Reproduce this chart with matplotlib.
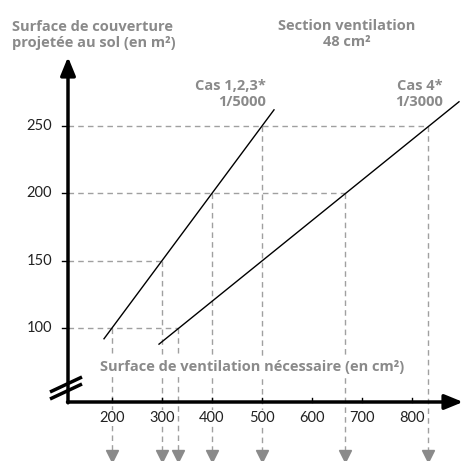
import matplotlib.pyplot as plt

# ----------------------------------------
# Data
# ----------------------------------------
x_ticks = [200, 300, 400, 500, 600, 700, 800]
y_ticks = [100, 150, 200, 250]

# Cas 1,2,3 : 1/5000 -> surface = vent / 2
cas123_x = [184, 524]
cas123_y = [92, 262]
# Cas 4 : 1/3000 -> surface = 0.3 * vent
cas4_x = [294, 894]
cas4_y = [88, 268]

# guide points (ventilation, surface) for the dashed helper lines
guide_vent = [200, 300, 400, 500, 333, 667, 833]
guide_surf = [100, 150, 200, 250, 100, 200, 250]

GREY = "#8a8a8a"
DASH = "#a0a0a0"
plt.rcParams['font.family'] = ['Lato', 'DejaVu Sans']
LABEL_FONT = ['Open Sans', 'DejaVu Sans']

fig = plt.figure(figsize=(4.64, 4.61), dpi=100)
ax = fig.add_axes([0, 0, 1, 1])
# pixel mapping: x 200->112px, 0.5 px per unit ; y 100->328px, 250->126px
X200 = 112
sx = 0.5
sy = 202 / 150.0
ax.set_xlim(200 - X200 / sx, 200 + (464 - X200) / sx)
ax.set_ylim(100 - (461 - 328) / sy, 100 + 328 / sy)
ax.axis("off")


def px(x):
    return 200 + (x - X200) / sx


def py(y):
    return 100 - (y - 328) / sy


x0 = px(68)          # y axis position
y0 = py(402)         # x axis position
y_arrow = py(456)
y_top = py(57)
x_end = px(463)

# ----------------------------------------
# Dashed guides
# ----------------------------------------
max_h = {}
for v, s in zip(guide_vent, guide_surf):
    max_h[s] = max(max_h.get(s, 0), v)
for s, v in max_h.items():
    ax.plot([x0, v], [s, s], color=DASH, lw=1, ls=(0, (4, 3)), zorder=1)
for v, s in zip(guide_vent, guide_surf):
    ax.plot([v, v], [s, y_arrow + 4], color=DASH, lw=1, ls=(0, (4, 3)), zorder=1)
    ax.plot(v, y_arrow, marker="v", color=GREY, ms=9, zorder=2, clip_on=False)

# ----------------------------------------
# Lines
# ----------------------------------------
ax.plot(cas123_x, cas123_y, color="black", lw=1, zorder=3)
ax.plot(cas4_x, cas4_y, color="black", lw=1, zorder=3)

# ----------------------------------------
# Axes with arrows
# ----------------------------------------
ax.annotate("", xy=(x0, y_top), xytext=(x0, y0 - 0.6),
            arrowprops=dict(arrowstyle="-|>,head_length=1.1,head_width=0.45",
                            color="black", lw=2.5, shrinkA=0, shrinkB=0), zorder=4)
ax.annotate("", xy=(x_end, y0), xytext=(x0 - 1, y0),
            arrowprops=dict(arrowstyle="-|>,head_length=1.1,head_width=0.45",
                            color="black", lw=2.5, shrinkA=0, shrinkB=0), zorder=4)

# axis break marks
for off in (0, 7):
    ax.plot([px(50), px(82)], [py(392 + off), py(377 + off)],
            color="black", lw=2.5, zorder=5, solid_capstyle="butt")

# ticks
for t in y_ticks:
    ax.plot([x0 - 6 / sx, x0], [t, t], color="black", lw=1, zorder=4)
    ax.text(x0 - 16 / sx, t, str(t), ha="right", va="center",
            fontsize=10.5, color="#222222")
for t in x_ticks:
    ax.plot([t, t], [y0, y0 + 4 / sy], color="black", lw=1, zorder=4)
    ax.text(t, y0 - 16 / sy, str(t), ha="center", va="center",
            fontsize=10.5, color="#222222", zorder=3,
            bbox=dict(facecolor="white", edgecolor="none", pad=0.5))

# ----------------------------------------
# Texts
# ----------------------------------------
lab = dict(fontsize=10.5, fontweight="bold", color=GREY, family=LABEL_FONT)
ax.text(px(12), py(35), "Surface de couverture\nprojetée au sol (en m²)",
        ha="left", va="center", linespacing=1.15, **lab)
ax.text(px(347), py(34), "Section ventilation\n48 cm²", ha="center",
        va="center", linespacing=1.1, **lab)
ax.text(px(266), py(94), "Cas 1,2,3*\n1/5000", ha="right", va="center",
        linespacing=1.1, **lab)
ax.text(px(443), py(94), "Cas 4*\n1/3000", ha="right", va="center",
        linespacing=1.1, **lab)
ax.text(px(100), py(367), "Surface de ventilation nécessaire (en cm²)",
        ha="left", va="center", zorder=2,
        bbox=dict(facecolor="white", edgecolor="none", pad=2), **lab)

fig.savefig("out.png", dpi=100)
